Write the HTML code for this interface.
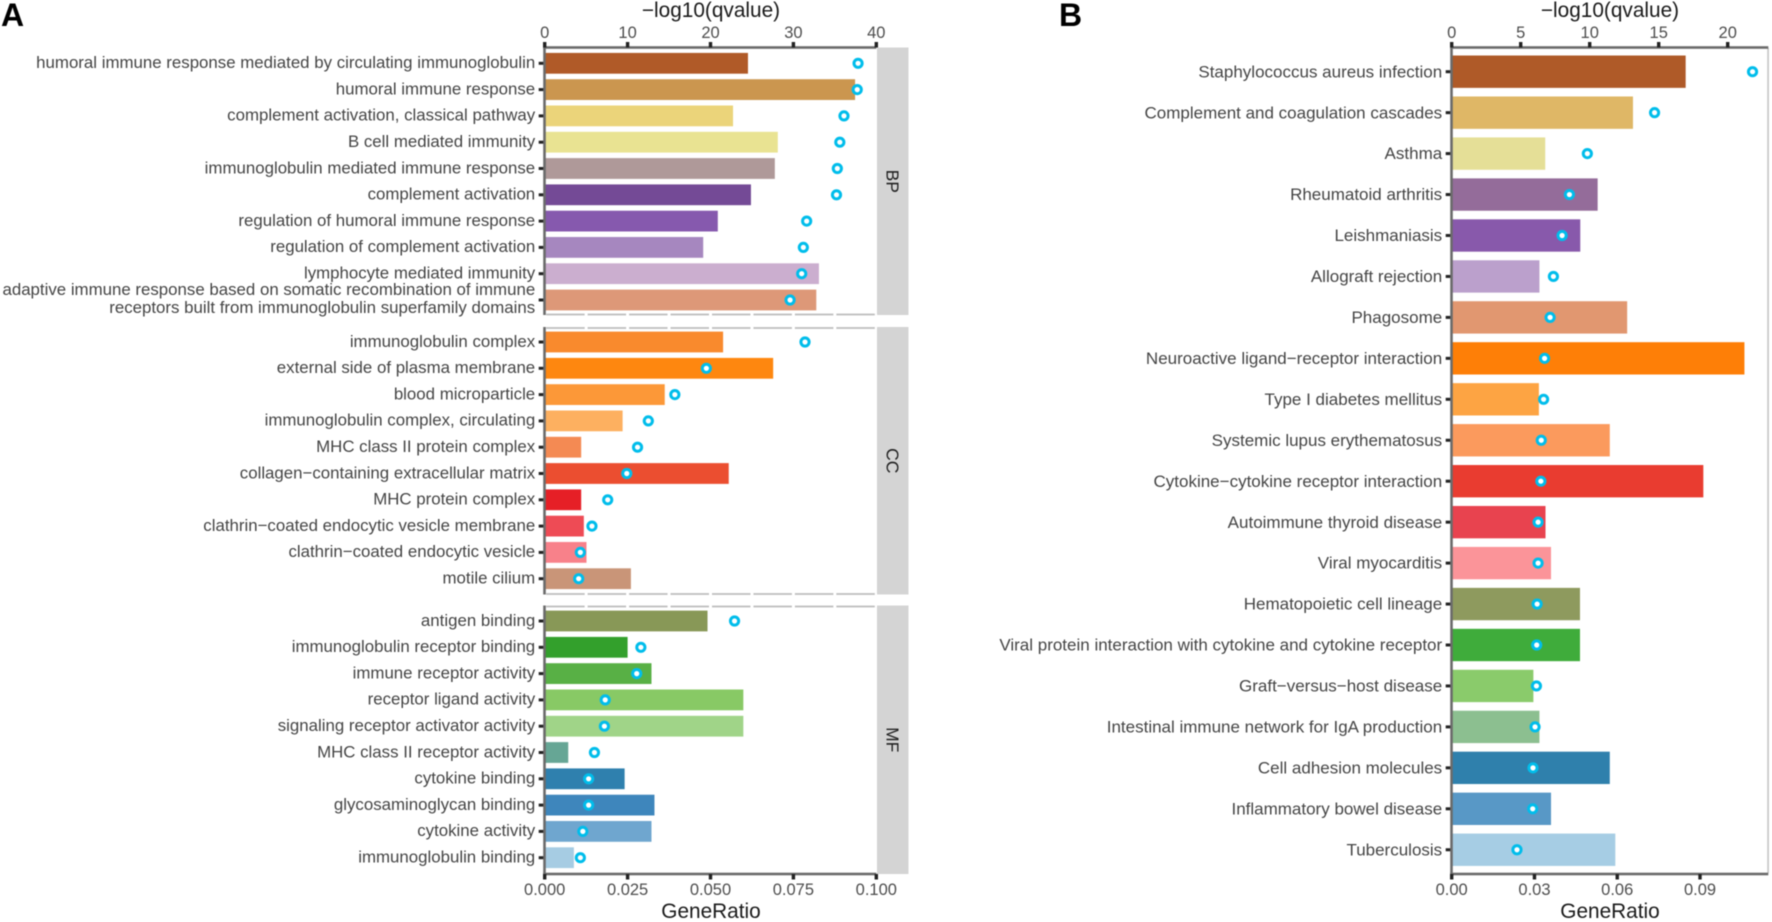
<!DOCTYPE html>
<html lang="en">
<head>
<meta charset="utf-8">
<title>GO and KEGG enrichment</title>
<style>
html,body{margin:0;padding:0;background:#fff;width:1772px;height:922px;overflow:hidden}
svg{display:block;filter:blur(0.4px)}
text{font-family:"Liberation Sans",Arial,sans-serif}
.cat{font-size:16.85px;fill:#454545;text-anchor:end}
.tick{font-size:16.5px;fill:#4d4d4d;text-anchor:middle}
.title{font-size:20.8px;fill:#1a1a1a;text-anchor:middle}
.tag{font-size:32px;font-weight:bold;fill:#000}
.strip{font-size:17.5px;fill:#1f1f1f;text-anchor:middle}
</style>
</head>
<body>
<svg id="chart" xmlns="http://www.w3.org/2000/svg" width="1772" height="922" viewBox="0 0 1772 922">
  <text class="tag" x="1" y="26">A</text>
  <text class="tag" x="1059" y="26">B</text>
  <text class="title" x="711" y="17">−log10(qvalue)</text>
  <text class="title" x="711" y="918">GeneRatio</text>
  <text class="title" x="1610" y="17">−log10(qvalue)</text>
  <text class="title" x="1610" y="918">GeneRatio</text>
  <g id="marks"></g>
</svg>
<script>
// Panel A data
var bpCategories = ["humoral immune response mediated by circulating immunoglobulin","humoral immune response","complement activation, classical pathway","B cell mediated immunity","immunoglobulin mediated immune response","complement activation","regulation of humoral immune response","regulation of complement activation","lymphocyte mediated immunity","adaptive immune response based on somatic recombination of immune|receptors built from immunoglobulin superfamily domains"];
var bpRatios = [0.0613,0.0936,0.0568,0.0703,0.0694,0.0622,0.0522,0.0478,0.0827,0.0819];
var bpQvalues = [37.8,37.7,36.1,35.6,35.3,35.2,31.6,31.2,31.0,29.6];
var ccCategories = ["immunoglobulin complex","external side of plasma membrane","blood microparticle","immunoglobulin complex, circulating","MHC class II protein complex","collagen−containing extracellular matrix","MHC protein complex","clathrin−coated endocytic vesicle membrane","clathrin−coated endocytic vesicle","motile cilium"];
var ccRatios = [0.0538,0.0689,0.0362,0.0235,0.0110,0.0555,0.0110,0.0118,0.0126,0.0260];
var ccQvalues = [31.4,19.5,15.7,12.5,11.2,9.9,7.6,5.7,4.3,4.1];
var mfCategories = ["antigen binding","immunoglobulin receptor binding","immune receptor activity","receptor ligand activity","signaling receptor activator activity","MHC class II receptor activity","cytokine binding","glycosaminoglycan binding","cytokine activity","immunoglobulin binding"];
var mfRatios = [0.0491,0.0250,0.0322,0.0599,0.0599,0.0071,0.0241,0.0331,0.0322,0.0088];
var mfQvalues = [22.9,11.6,11.1,7.3,7.2,6.0,5.3,5.3,4.6,4.3];
// Panel B data
var keggCategories = ["Staphylococcus aureus infection","Complement and coagulation cascades","Asthma","Rheumatoid arthritis","Leishmaniasis","Allograft rejection","Phagosome","Neuroactive ligand−receptor interaction","Type I diabetes mellitus","Systemic lupus erythematosus","Cytokine−cytokine receptor interaction","Autoimmune thyroid disease","Viral myocarditis","Hematopoietic cell lineage","Viral protein interaction with cytokine and cytokine receptor","Graft−versus−host disease","Intestinal immune network for IgA production","Cell adhesion molecules","Inflammatory bowel disease","Tuberculosis"];
var keggRatios = [0.0848,0.0657,0.0339,0.0529,0.0466,0.0318,0.0636,0.1061,0.0316,0.0573,0.0912,0.0340,0.0360,0.0465,0.0465,0.0296,0.0318,0.0573,0.0360,0.0593];
var keggQvalues = [21.8,14.7,9.83,8.53,8.0,7.37,7.13,6.73,6.66,6.49,6.46,6.26,6.26,6.19,6.16,6.14,6.04,5.89,5.87,4.73];
// Tick labels
var ratioTicksA = ["0.000","0.025","0.050","0.075","0.100"];
var qTicksA = ["0","10","20","30","40"];
var ratioTicksB = ["0.00","0.03","0.06","0.09"];
var qTicksB = ["0","5","10","15","20"];
// Facet labels
var facetLabels = ["BP","CC","MF"];
// Bar palettes
var bpColors = ["#B05A28","#CB964F","#EBD47A","#E9E392","#AF9999","#744A96","#8659AE","#A687BF","#CBAECF","#DD9878"];
var ccColors = ["#F98A2D","#FE870F","#FC9838","#FDB060","#F48A53","#EB4E30","#E61F26","#EE4B55","#F8818A","#C99578"];
var mfColors = ["#889857","#33A02C","#58B045","#88C965","#A0D488","#66A695","#2F80AE","#3E86BC","#6FA6CF","#A6CCE3"];
var keggColors = ["#AF5A28","#DFB766","#E5DF97","#946C9A","#8859AB","#BBA0CC","#E19770","#FE7F07","#FDA443","#FB9A5D","#E93C30","#E8434F","#FB9499","#8E9A5E","#3FAC3B","#8ACB6B","#8CBF90","#2F80AC","#5898C6","#A6CDE4"];

var NS = "http://www.w3.org/2000/svg";
var root = document.getElementById("marks");

function make(tag, attrs, parent) {
  var el = document.createElementNS(NS, tag);
  for (var k in attrs) el.setAttribute(k, attrs[k]);
  (parent || root).appendChild(el);
  return el;
}
function slug(s) {
  return s.replace(/\|.*/, "").toLowerCase().replace(/[^a-z0-9]+/g, "-").replace(/^-|-$/g, "");
}

// Axis functions
var AX0 = 544.7, AX1 = 876.3, BX0 = 1451.7, BX1 = 1768.3;
function xRatioA(v) { return AX0 + v * (AX1 - AX0) / 0.1; }
function xQA(v) { return AX0 + v * (AX1 - AX0) / 40; }
function xRatioB(v) { return BX0 + v * 2759; }
function xQB(v) { return BX0 + v * 13.8; }
function rowScale(first, step) { return function (i) { return first + step * i; }; }

function drawRows(categories, ratios, qvalues, colors, yOf, step, xR, xQ, x0, prefix, fontSize, baseShift) {
  var dots = [];
  categories.forEach(function (cat, i) {
    var y = yOf(i), h = step * 0.79;
    var bar = make("rect", {x: x0, y: y - h / 2, width: xR(ratios[i]) - x0, height: h, fill: colors[i]});
    
    
    var tick = make("rect", {x: x0 - 6, y: y - 1.5, width: 5, height: 3, fill: "#222"});
    
    
    var lines = cat.split("|");
    lines.forEach(function (line, j) {
      var t = make("text", {"class": "cat", x: x0 - 9.5, y: y + baseShift + (j - (lines.length - 1) / 2) * 18.4 - (lines.length > 1 ? 0.8 : 0), "font-size": fontSize, style: "font-size:" + fontSize + "px"});
      t.textContent = line;
      
      
    });
    dots.push([xQ(qvalues[i]), y, cat]);
  });
  dots.forEach(function (d) {
    var c = make("circle", {cx: d[0], cy: d[1], r: 4.1, fill: "#fff", stroke: "#00BDEB", "stroke-width": 3});
    
    
  });
}

function dashedH(x0, x1, y) {
  var n = 8, w = (x1 - x0) / n;
  for (var i = 0; i < n; i++) {
    var s = make("rect", {x: x0 + i * w + 1.5, y: y - 0.9, width: w - 3, height: 1.8, fill: "#bdbdbd"});
    
    
  }
}

// Panel A facets
var facetBoxes = [[47.5, 315], [327, 594.5], [605.5, 874]];
var facetFirstRow = [63.3, 342, 621];
var rowStepA = 26.3;
var facetCats = [bpCategories, ccCategories, mfCategories];
var facetRatios = [bpRatios, ccRatios, mfRatios];
var facetQs = [bpQvalues, ccQvalues, mfQvalues];
var facetCols = [bpColors, ccColors, mfColors];

facetLabels.forEach(function (lab, f) {
  var box = facetBoxes[f];
  var strip = make("rect", {x: 877, y: box[0], width: 31.5, height: box[1] - box[0], fill: "#D4D4D4"});
  
  
  var cy = (box[0] + box[1]) / 2;
  var t = make("text", {"class": "strip", x: 892.5, y: cy, transform: "rotate(90 892.5 " + cy + ") translate(0 6)"});
  t.textContent = lab;
  
  
  if (f > 0) dashedH(AX0, AX1, box[0] + 1);
  if (f < 2) dashedH(AX0, AX1, box[1] - 0.5);
  drawRows(facetCats[f], facetRatios[f], facetQs[f], facetCols[f], rowScale(facetFirstRow[f], rowStepA), rowStepA, xRatioA, xQA, AX0, lab.toLowerCase(), 16.85, 4.8);
  var ax = make("rect", {x: AX0 - 1.5, y: box[0], width: 2.6, height: box[1] - box[0], fill: "#6b6b6b"});
  
  
});

// Panel B
var rowStepB = 40.95;
var rb = make("rect", {x: BX1 - 1, y: 48, width: 1.6, height: 825, fill: "#c4c4c4"});


drawRows(keggCategories, keggRatios, keggQvalues, keggColors, rowScale(71.7, rowStepB), rowStepB, xRatioB, xQB, BX0, 'kegg', 17, 5.6);
var axB = make("rect", {x: BX0 - 1.5, y: 47, width: 2.6, height: 827, fill: "#6b6b6b"});



// Horizontal axes
function drawAxis(labels, scale, x0, x1, axisY, dir, labelY, name) {
  var line = make("rect", {x: x0 - 1.5, y: axisY - 1.3, width: x1 - x0 + 1.5, height: 2.6, fill: "#6b6b6b"});
  
  
  labels.forEach(function (lab) {
    var x = scale(Number(lab));
    var tk = make("rect", {x: x - 1.7, y: dir > 0 ? axisY : axisY - 5.5, width: 3.4, height: 5.5, fill: "#222"});
    
    
    var t = make("text", {"class": "tick", x: x, y: labelY});
    t.textContent = lab;
    
    
  });
}
drawAxis(qTicksA, xQA, AX0, AX1, 47.5, -1, 38, 'panel-a-q');
drawAxis(ratioTicksA, xRatioA, AX0, AX1, 874, 1, 895, 'panel-a-ratio');
drawAxis(qTicksB, xQB, BX0, BX1, 47.5, -1, 38, 'panel-b-q');
drawAxis(ratioTicksB, xRatioB, BX0, BX1, 874, 1, 895, 'panel-b-ratio');
</script>
</body>
</html>
